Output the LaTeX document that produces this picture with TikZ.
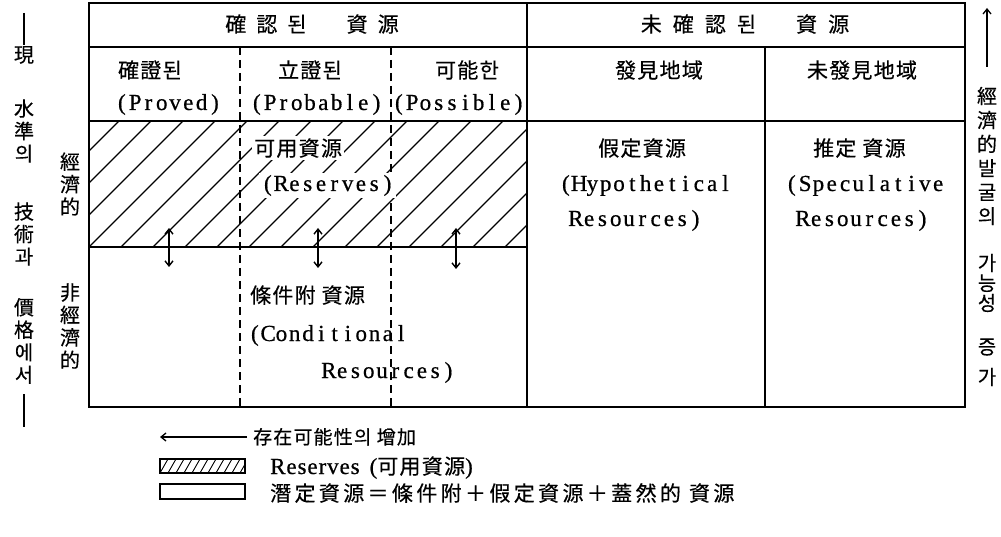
\documentclass[tikz,border=0pt]{standalone}
\usepackage{fontspec}
\setmainfont{Liberation Serif}
\newfontfamily\cjk[LetterSpace=6,FakeBold=0.4]{Noto Sans CJK KR}
\newfontfamily\cjkw[LetterSpace=16,FakeBold=0.4]{Noto Sans CJK KR}
\newfontfamily\cjkv[FakeBold=0.4]{Noto Sans CJK KR}
\newfontfamily\lat[FakeBold=0.6]{Liberation Serif}
\newfontfamily\latn[LetterSpace=4,FakeBold=0.6]{Liberation Serif}
\ExplSyntaxOn
\NewDocumentCommand\fixp{m}{\tl_map_inline:nn{#1}{\makebox[13.3pt]{##1}}}
\ExplSyntaxOff
\usetikzlibrary{arrows.meta}
\begin{document}
\begin{tikzpicture}[x=1pt,y=-1pt,
  frame/.style={line width=1.7pt},
  rule/.style={line width=1.4pt},
  dashline/.style={line width=1.3pt, dash pattern=on 8pt off 5pt},
  hatchline/.style={line width=1.1pt},
  kt/.style={font=\cjk\fontsize{21}{24}\selectfont, inner sep=0pt},
  lt/.style={font=\lat\fontsize{23}{27}\selectfont, inner sep=0pt},
  vt/.style={font=\cjkv\fontsize{20}{22.5}\selectfont, align=center, inner sep=0pt},
  wb/.style={fill=white, inner sep=2pt},
  barb/.tip={Straight Barb[length=5pt,width=8pt]},
  dbl/.style={line width=1.4pt, barb-barb},
  onearrow/.style={line width=1.3pt, -barb},
]
\useasboundingbox (0,0) rectangle (1001,537);

% hatching of the reserves band
\begin{scope}
  \clip (89,121) rectangle (527,247);
  \foreach \i in {-4,...,14} \draw[hatchline] (89+\i*32,247) -- ++(126,-126);
\end{scope}

% table frame and rules
\draw[frame] (89,3) rectangle (965,407);
\draw[rule] (89,47) -- (965,47);
\draw[rule] (89,121) -- (965,121);
\draw[rule] (89,247) -- (527,247);
\draw[rule] (527,3) -- (527,407);
\draw[rule] (765,47) -- (765,407);
\draw[dashline] (240,47) -- (240,407);
\draw[dashline] (391,47) -- (391,407);

% header row
\node[kt, anchor=base] (h1) at (312,32) {確\hspace{10pt}認\hspace{10pt}된\hspace{40pt}資\hspace{10pt}源};
\node[kt, anchor=base] (h2) at (745,32) {未\hspace{11pt}確\hspace{11pt}認\hspace{11pt}된\hspace{40pt}資\hspace{11pt}源};

% sub header
\node[kt, anchor=base] (s1) at (150,78) {確證된};
\node[lt, anchor=base west] (s1e) at (115,110) {\fixp{(Proved)}};
\node[kt, anchor=base] (s2) at (310,78) {立證된};
\node[lt, anchor=base west] (s2e) at (250,110) {\fixp{(Probable)}};
\node[kt, anchor=base] (s3) at (467,78) {可能한};
\node[lt, anchor=base west] (s3e) at (392,110) {\fixp{(Possible)}};
\node[kt, anchor=base] (s4) at (659,78) {發見地域};
\node[kt, anchor=base] (s5) at (862,78) {未發見地域};

% reserves text (white background over hatching)
\node[kt, wb, anchor=base west] (r1) at (252,156) {可用資源};
\node[lt, wb, anchor=base west] (r2) at (259,191) {\fixp{(Reserves)}};

% conditional resources
\node[kt, anchor=base west] (c1) at (250,303) {條件附 資源};
\node[lt, anchor=base west] (c2) at (248,341) {\fixp{(Conditional}};
\node[lt, anchor=base west] (c3) at (322,378) {\fixp{Resources)}};

% hypothetical
\node[kt, anchor=base west] (y1) at (598,156) {假定資源};
\node[lt, anchor=base west] (y2) at (559,191) {\fixp{(Hypothetical}};
\node[lt, anchor=base west] (y3) at (569,226) {\fixp{Resources)}};

% speculative
\node[kt, anchor=base west] (p1) at (813,156) {推定 資源};
\node[lt, anchor=base west] (p2) at (785,191) {\fixp{(Speculative}};
\node[lt, anchor=base west] (p3) at (796,226) {\fixp{Resources)}};

% double arrows between reserves and conditional
\coordinate (a1t) at (169,228); \coordinate (a1b) at (169,267);
\coordinate (a2t) at (318,228); \coordinate (a2b) at (318,268);
\coordinate (a3t) at (456,228); \coordinate (a3b) at (456,269);
\draw[dbl] (a1t) -- (a1b);
\draw[dbl] (a2t) -- (a2b);
\draw[dbl] (a3t) -- (a3b);

% left vertical label
\coordinate (lt1) at (24,13); \coordinate (lb1) at (24,45);
\draw[rule] (lt1) -- (lb1);
\node[vt] (v1) at (24,55) {現};
\node[vt] (v2) at (24,131) {水\\準\\의};
\node[vt] (v3) at (24,234) {技\\術\\과};
\node[vt] (v4) at (24,341) {價\\格\\에\\서};
\coordinate (lt2) at (24,394); \coordinate (lb2) at (24,427);
\draw[rule] (lt2) -- (lb2);

\node[vt] (e1) at (70,184) {經\\濟\\的};
\node[vt] (e2) at (70,326) {非\\經\\濟\\的};

% right vertical label
\coordinate (ra) at (987,67); \coordinate (rb) at (987,8);
\draw[onearrow] (ra) -- (rb);
\node[vt, font=\cjkv\fontsize{20}{24}\selectfont] (w1) at (987,156) {經\\濟\\的\\발\\굴\\의};
\node[vt, font=\cjkv\fontsize{20}{20}\selectfont] (w2) at (987,283) {가\\능\\성};
\node[vt] (w3) at (987,347) {증};
\node[vt] (w4) at (987,377) {가};

% legend
\coordinate (la) at (247,437); \coordinate (lb) at (160,437);
\draw[onearrow] (la) -- (lb);
\node[kt, font=\cjk\fontsize{19}{22}\selectfont, anchor=base west] (g1) at (253,444) {存在可能性의 增加};

\begin{scope}
  \clip (160,459) rectangle (245,473);
  \foreach \i in {-2,...,12} \draw[line width=0.9pt] (160+\i*8,473) -- ++(8,-14);
\end{scope}
\draw[rule] (160,459) rectangle (245,473);
\node[anchor=base west, inner sep=0pt] (g2) at (270,474) {\latn\fontsize{23}{27}\selectfont Reserves\hspace{10pt}(\cjk\fontsize{21}{24}\selectfont 可用資源\latn\fontsize{23}{27}\selectfont)};

\draw[rule] (160,484) rectangle (245,499);
\node[font=\cjkw\fontsize{21}{24}\selectfont, inner sep=0pt, anchor=base west] (g3) at (270,501) {潛定資源＝條件附＋假定資源＋蓋然的 資源};
\end{tikzpicture}
\end{document}
